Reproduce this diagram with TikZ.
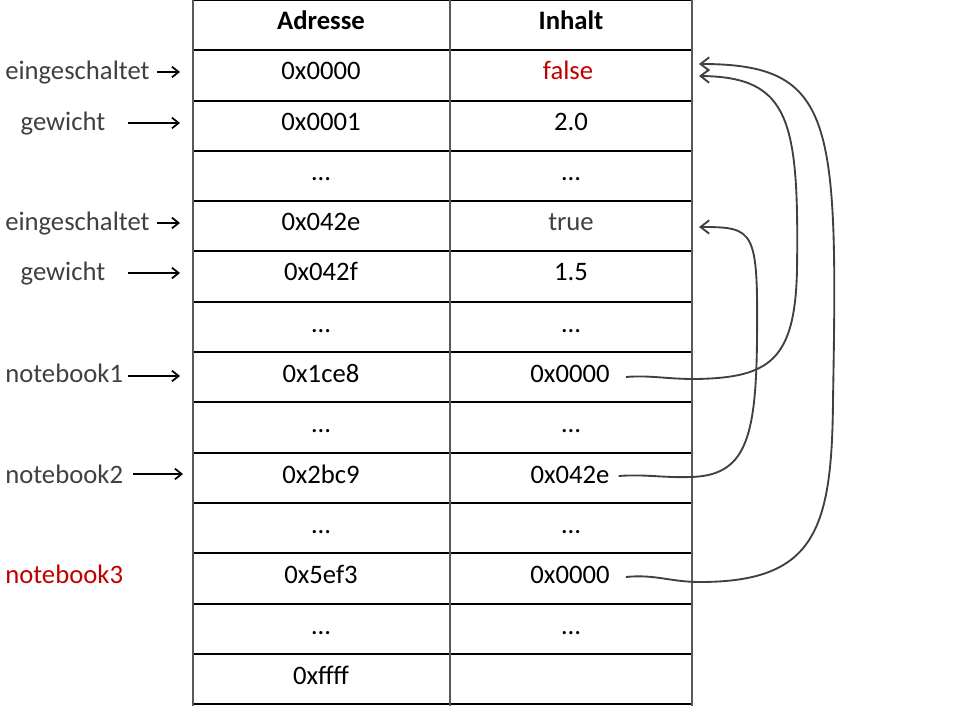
\documentclass[tikz,border=0pt]{standalone}
\usepackage{fontspec}
\setmainfont{Carlito}
\usetikzlibrary{arrows.meta,calc}
\definecolor{lbl}{HTML}{404040}
\definecolor{rd}{HTML}{C00000}
\definecolor{vline}{HTML}{5A5A5A}
\begin{document}
\begin{tikzpicture}[x=0.75pt,y=-0.75pt,font=\fontsize{20}{24}\selectfont,
  cell/.style={anchor=base,inner sep=0pt},
  lab/.style={anchor=base west,inner sep=0pt,text=lbl},
  hline/.style={black,line width=0.8pt},
  vl/.style={vline,line width=1.1pt},
  ptr/.style={black,line width=1.3pt,-{Straight Barb[length=5pt,width=8pt]}},
  link/.style={lbl,line width=1.4pt,-{Straight Barb[length=6.5pt,width=10pt]}}]
\useasboundingbox (0,0) rectangle (960,720);
% grid
\foreach \y in {0.5,50,101,151,201,251,302,352,402,453,503,553,604,654,704}
  \draw[hline] (193,\y) -- (692,\y);
\foreach \x in {193,450,692}
  \draw[vl] (\x,0) -- (\x,706);
% header
\node[cell] (h1) at (321,30) {\bfseries Adresse};
\node[cell] (h2) at (571,30) {\bfseries Inhalt};
% cells
\node[cell] (a1) at (321,80) {0x0000};   \node[cell,text=rd] (c1) at (568,80) {false};
\node[cell] (a2) at (321,131) {0x0001};  \node[cell] (c2) at (571,131) {2.0};
\node[cell] (a3) at (321,181) {…};       \node[cell] (c3) at (571,181) {…};
\node[cell] (a4) at (321,231) {0x042e};  \node[cell,text=lbl] (c4) at (571,231) {true};
\node[cell] (a5) at (321,281) {0x042f};  \node[cell] (c5) at (571,281) {1.5};
\node[cell] (a6) at (321,332) {…};       \node[cell] (c6) at (571,332) {…};
\node[cell] (a7) at (321,382) {0x1ce8};  \node[cell] (c7) at (570,382) {0x0000};
\node[cell] (a8) at (321,432) {…};       \node[cell] (c8) at (571,432) {…};
\node[cell] (a9) at (321,483) {0x2bc9};  \node[cell] (c9) at (570,483) {0x042e};
\node[cell] (a10) at (321,533) {…};      \node[cell] (c10) at (571,533) {…};
\node[cell] (a11) at (321,583) {0x5ef3}; \node[cell] (c11) at (570,583) {0x0000};
\node[cell] (a12) at (321,634) {…};      \node[cell] (c12) at (571,634) {…};
\node[cell] (a13) at (321,684) {0xffff};
% labels
\node[lab] (l1) at (5,80) {eingeschaltet};
\node[cell,text=lbl] (l2) at (63,131) {gewicht};
\node[lab] (l4) at (5,231) {eingeschaltet};
\node[cell,text=lbl] (l5) at (63,281) {gewicht};
\node[lab] (l7) at (5,382) {notebook1};
\node[lab] (l9) at (5,483) {notebook2};
\node[lab,text=rd] (l11) at (5,583) {notebook3};
% label pointers
\coordinate (e1) at (180,72);  \coordinate (s1) at ($(l1.base east)+(7,-8)$);
\coordinate (s2) at (128,123); \coordinate (e2) at (180,123);
\coordinate (e4) at (180,223); \coordinate (s4) at ($(l4.base east)+(7,-8)$);
\coordinate (s5) at (128,273); \coordinate (e5) at (180,273);
\coordinate (s7) at (128,376); \coordinate (e7) at (180,376);
\coordinate (s9) at (133,474); \coordinate (e9) at (183,474);
\draw[ptr] (s1) -- (e1);
\draw[ptr] (s2) -- (e2);
\draw[ptr] (s4) -- (e4);
\draw[ptr] (s5) -- (e5);
\draw[ptr] (s7) -- (e7);
\draw[ptr] (s9) -- (e9);
% reference links
\coordinate (tA) at (699,76);
\coordinate (tB) at (699,64);
\coordinate (tC) at (699,227);
\coordinate (rA) at ($(c7.base east)+(16,-5)$);
\coordinate (rB) at ($(c11.base east)+(16,-6)$);
\coordinate (rC) at ($(c9.base east)+(9,-7)$);
\draw[link] (rA) .. controls (650,375) and (665,379) .. (695,379)
  .. controls (770,378) and (795,360) .. (797,270)
  .. controls (799,120) and (790,77) .. (tA);
\draw[link] (rB) .. controls (655,574) and (670,582) .. (700,582)
  .. controls (815,582) and (832,530) .. (833,400)
  .. controls (838,120) and (835,64) .. (tB);
\draw[link] (rC) .. controls (645,474) and (665,478) .. (690,477)
  .. controls (745,476) and (756,440) .. (757,340)
  .. controls (758,230) and (755,227) .. (tC);
\end{tikzpicture}
\end{document}
